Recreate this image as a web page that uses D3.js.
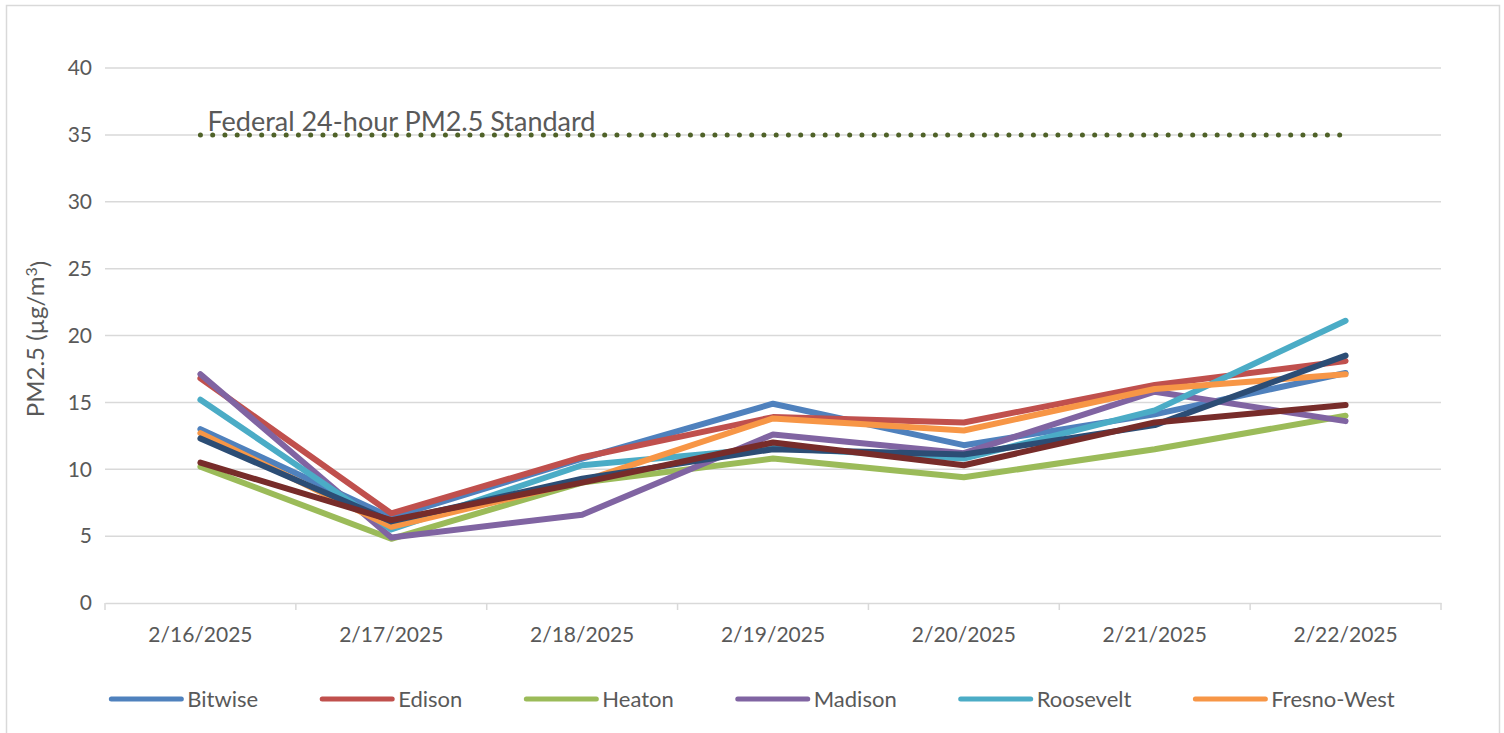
<!DOCTYPE html>
<html>
<head>
<meta charset="utf-8">
<script src="https://cdn.jsdelivr.net/npm/d3@7"></script>
<style>
  body { margin: 0; background: #fff; }
  svg text { font-family: Lato, "Open Sans", sans-serif; fill: #595959; }
</style>
</head>
<body>
<svg id="chart" width="1504" height="733"></svg>
<script>
// data
var dates = ["2/16/2025", "2/17/2025", "2/18/2025", "2/19/2025", "2/20/2025", "2/21/2025", "2/22/2025"];
var yTicks = [0, 5, 10, 15, 20, 25, 30, 35, 40];

var bitwise    = [13.0, 6.4, 10.8, 14.9, 11.8, 14.1, 17.2];
var edison     = [16.8, 6.7, 10.9, 13.9, 13.5, 16.3, 18.1];
var heaton     = [10.2, 4.8,  9.0, 10.8,  9.4, 11.5, 14.0];
var madison    = [17.1, 4.9,  6.6, 12.6, 11.2, 15.8, 13.6];
var roosevelt  = [15.2, 5.5, 10.3, 11.6, 10.8, 14.4, 21.1];
var fresnoWest = [12.7, 5.7,  9.1, 13.8, 12.9, 16.0, 17.1];
var site7      = [12.3, 6.1,  9.3, 11.5, 11.1, 13.3, 18.5];
var site8      = [10.5, 6.2,  9.0, 12.0, 10.3, 13.5, 14.8];
var federal    = [35, 35, 35, 35, 35, 35, 35];

var series = [
    { name: "Bitwise", values: bitwise, color: "#4F81BD", legend: true },
    { name: "Edison", values: edison, color: "#C0504D", legend: true },
    { name: "Heaton", values: heaton, color: "#9BBB59", legend: true },
    { name: "Madison", values: madison, color: "#8064A2", legend: true },
    { name: "Roosevelt", values: roosevelt, color: "#4BACC6", legend: true },
    { name: "Fresno-West", values: fresnoWest, color: "#F79646", legend: true },
    { name: "Site 7", values: site7, color: "#2C4D75", legend: false },
    { name: "Site 8", values: site8, color: "#772C2A", legend: false }
];

var margin = { top: 68, left: 105, right: 63, bottom: 130 },
    width = 1504 - margin.left - margin.right,
    height = 733 - margin.top - margin.bottom;

var svg = d3.select("#chart");

// chart frame
svg.append("rect")
    .attr("x", 6.5).attr("y", 5.5)
    .attr("width", 1493).attr("height", 760)
    .attr("fill", "none")
    .attr("stroke", "#d9d9d9")
    .attr("stroke-width", 1.5);

var g = svg.append("g")
    .attr("transform", "translate(" + margin.left + "," + margin.top + ")");

var x = d3.scaleBand().domain(dates).range([0, width]);
var y = d3.scaleLinear().domain([0, 40]).range([height, 0]);

// gridlines
g.append("g")
    .selectAll("line")
    .data(yTicks.filter(function (d) { return d > 0; }))
    .enter().append("line")
    .attr("x1", 0).attr("x2", width)
    .attr("y1", function (d) { return y(d); })
    .attr("y2", function (d) { return y(d); })
    .attr("stroke", "#d9d9d9")
    .attr("stroke-width", 1.5);

// y axis labels
g.append("g")
    .selectAll("text")
    .data(yTicks)
    .enter().append("text")
    .attr("x", -13)
    .attr("y", function (d) { return y(d); })
    .attr("dy", "0.35em")
    .attr("text-anchor", "end")
    .style("font-size", "21px")
    .text(function (d) { return d; });

// x axis
var xAxis = g.append("g")
    .attr("transform", "translate(0," + height + ")")
    .call(d3.axisBottom(x).tickSize(0).tickPadding(24));
xAxis.select(".domain").attr("stroke", "#d9d9d9").attr("stroke-width", 1.5);
xAxis.selectAll("text")
    .style("font-size", "21px")
    .style("font-family", "Lato, 'Open Sans', sans-serif")
    .attr("fill", "#595959");

// category boundary ticks
var bounds = dates.map(function (d) { return x(d); }).concat([width]);
xAxis.selectAll(".btick")
    .data(bounds)
    .enter().append("line")
    .attr("class", "btick")
    .attr("x1", function (d) { return d; })
    .attr("x2", function (d) { return d; })
    .attr("y1", 0).attr("y2", 7)
    .attr("stroke", "#d9d9d9")
    .attr("stroke-width", 1.5);

// y axis title
var yTitle = svg.append("text")
    .attr("transform", "translate(44," + 339 + ") rotate(-90)")
    .attr("text-anchor", "middle")
    .style("font-size", "24px");
yTitle.append("tspan").text("PM2.5 (µg/m");
yTitle.append("tspan").attr("dy", "-0.45em").style("font-size", "16px").text("3");
yTitle.append("tspan").attr("dy", "0.45em").text(")");

var line = d3.line()
    .x(function (d, i) { return x(dates[i]) + x.bandwidth() / 2; })
    .y(function (d) { return y(d); });

// federal standard, dotted
g.append("path")
    .datum(federal)
    .attr("d", line)
    .attr("fill", "none")
    .attr("stroke", "#4F6228")
    .attr("stroke-width", 5)
    .attr("stroke-linecap", "round")
    .attr("stroke-dasharray", "0 12.25");

g.append("text")
    .attr("x", x(dates[0]) + x.bandwidth() / 2 + 7)
    .attr("y", y(federal[0]) - 4)
    .style("font-size", "27px")
    .text("Federal 24-hour PM2.5 Standard");

// site lines
g.append("g")
    .selectAll("path")
    .data(series)
    .enter().append("path")
    .attr("d", function (d) { return line(d.values); })
    .attr("fill", "none")
    .attr("stroke", function (d) { return d.color; })
    .attr("stroke-width", 6)
    .attr("stroke-linejoin", "round")
    .attr("stroke-linecap", "round");

// legend
var legendItems = series.filter(function (d) { return d.legend; });
var legend = svg.append("g").attr("transform", "translate(0,699)");
var items = legend.selectAll("g")
    .data(legendItems)
    .enter().append("g");
items.append("line")
    .attr("x1", 0).attr("x2", 70)
    .attr("stroke", function (d) { return d.color; })
    .attr("stroke-width", 5)
    .attr("stroke-linecap", "round");
items.append("text")
    .attr("x", 76)
    .attr("dy", "0.35em")
    .style("font-size", "22px")
    .text(function (d) { return d.name; });

var pos = 0, offsets = [];
items.each(function () {
    offsets.push(pos);
    pos += 76 + this.querySelector("text").getComputedTextLength() + 64;
});
var total = pos - 64;
var start = 753 - total / 2;
items.attr("transform", function (d, i) { return "translate(" + (start + offsets[i]) + ",0)"; });
</script>
</body>
</html>
